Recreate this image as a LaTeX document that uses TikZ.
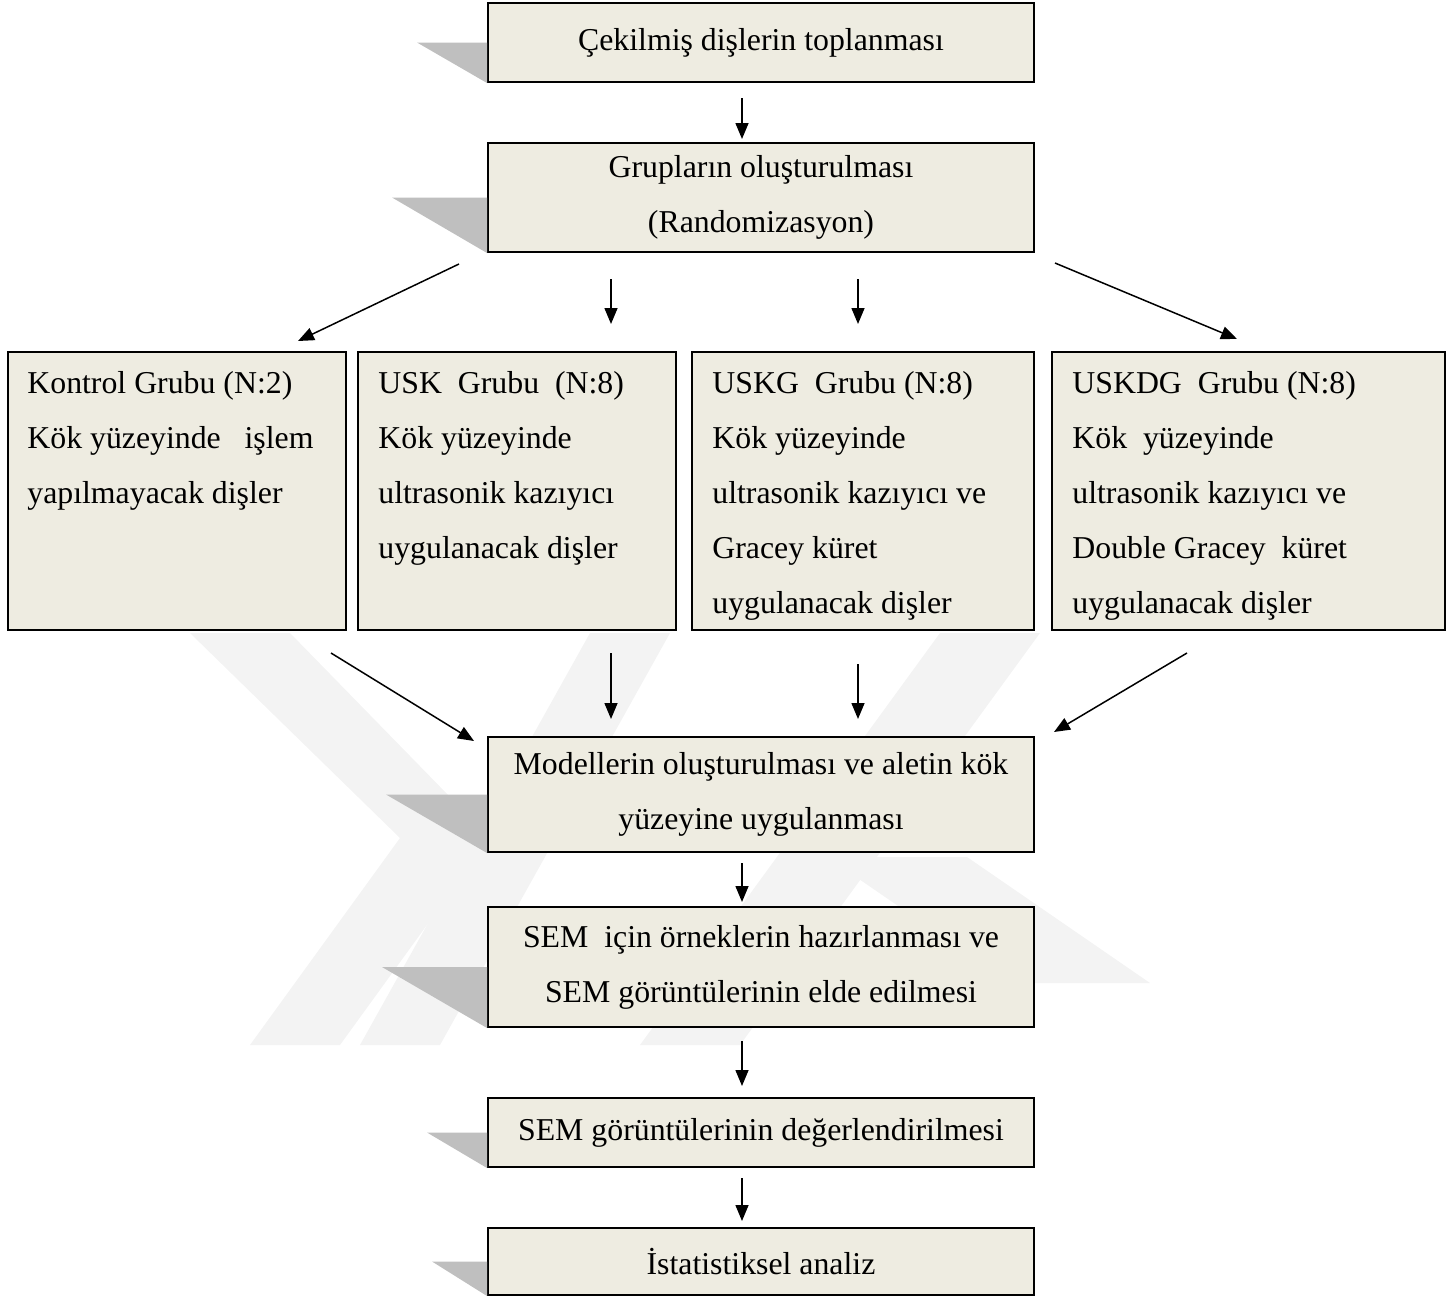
\documentclass[tikz,border=0pt]{standalone}
\usepackage{fontspec}
\setmainfont{Liberation Serif}
\usetikzlibrary{arrows.meta,calc}
\definecolor{boxfill}{HTML}{EEECE1}
\definecolor{shadowgray}{HTML}{BFBFBF}
\definecolor{wmgray}{HTML}{F3F3F3}
\begin{document}
\begin{tikzpicture}[x=0.5pt,y=-0.5pt,
  box/.style={draw=black, line width=1pt, fill=boxfill, inner sep=0pt,
    font=\fontsize{15.9}{27.5}\selectfont, align=center, minimum width=273pt},
  grp/.style={draw=black, line width=1pt, fill=boxfill, inner sep=0pt, minimum height=139pt},
  gtext/.style={anchor=north west, inner sep=0pt, align=left,
    font=\fontsize{15.9}{27.5}\selectfont},
  arr/.style={-{Triangle[length=8pt,width=6.5pt]}, line width=0.75pt},
  shadowfill/.style={fill=shadowgray, draw=none},
  wm/.style={fill=wmgray, draw=none}]
\useasboundingbox (0,0) rectangle (1453,1296);

% faint watermark
\fill[wm] (190,633) -- (290,633) -- (490,838) -- (340,1045) -- (250,1045) -- (400,838) -- cycle;
\fill[wm] (940,633) -- (1040,633) -- (740,1045) -- (640,1045) -- cycle;
\fill[wm] (590,633) -- (670,633) -- (440,1045) -- (360,1045) -- cycle;
\fill[wm] (827,857) -- (967,857) -- (1150,983) -- (1010,983) -- cycle;

% main column boxes
\node[box, minimum height=39.5pt] (b1) at (761,42.5) {Çekilmiş dişlerin toplanması};
\node[box, minimum height=54.5pt] (b2) at (761,197.5) {Grupların oluşturulması\\(Randomizasyon)};
\node[box, minimum height=57.5pt] (model) at (761,794.5) {Modellerin oluşturulması ve aletin kök\\yüzeyine uygulanması};
\node[box, minimum height=60pt] (sem) at (761,967) {SEM\ \ için örneklerin hazırlanması ve\\SEM görüntülerinin elde edilmesi};
\node[box, minimum height=34.5pt] (semd) at (761,1132.5) {SEM görüntülerinin değerlendirilmesi};
\node[box, minimum height=33.5pt] (ist) at (761,1261.5) {İstatistiksel analiz};

% shadows
\fill[shadowfill] ($(b1.west)+(-70,0)$) -- (b1.west) -- (b1.south west) -- cycle;
\fill[shadowfill] ($(b2.west)+(-95,0)$) -- (b2.west) -- (b2.south west) -- cycle;
\fill[shadowfill] ($(model.west)+(-101,0)$) -- (model.west) -- (model.south west) -- cycle;
\fill[shadowfill] ($(sem.west)+(-105,0)$) -- (sem.west) -- (sem.south west) -- cycle;
\fill[shadowfill] ($(semd.west)+(-60,0)$) -- (semd.west) -- (semd.south west) -- cycle;
\fill[shadowfill] ($(ist.west)+(-55,0)$) -- (ist.west) -- (ist.south west) -- cycle;

% group boxes
\node[grp, minimum width=169pt] (kon) at (177,491) {};
\node[grp, minimum width=159pt] (usk) at (517,491) {};
\node[grp, minimum width=171pt] (uskg) at (863,491) {};
\node[grp, minimum width=196.5pt] (uskdg) at (1248.5,491) {};

\node[gtext] (konT) at ($(kon.north west)+(20,20)$) {Kontrol Grubu (N:2)\\Kök yüzeyinde\ \ \ işlem\\yapılmayacak dişler};
\node[gtext] (uskT) at ($(usk.north west)+(21,20)$) {USK\ \ Grubu\ \ (N:8)\\Kök yüzeyinde\\ultrasonik kazıyıcı\\uygulanacak dişler};
\node[gtext] (uskgT) at ($(uskg.north west)+(21,20)$) {USKG\ \ Grubu (N:8)\\Kök yüzeyinde\\ultrasonik kazıyıcı ve\\Gracey küret\\uygulanacak dişler};
\node[gtext] (uskdgT) at ($(uskdg.north west)+(21,20)$) {USKDG\ \ Grubu (N:8)\\Kök\ \ yüzeyinde\\ultrasonik kazıyıcı ve\\Double Gracey\ \ küret\\uygulanacak dişler};

% arrows
\draw[arr] ($(b1.south west)+(255,15)$) -- ($(b2.north west)+(255,-3)$);
\draw[arr] ($(b2.south west)+(-28,11)$) -- ($(kon.north east)+(-49,-10)$);
\draw[arr] ($(b2.south west)+(124,26)$) -- ($(usk.north west)+(254,-27)$);
\draw[arr] ($(b2.south west)+(371,26)$) -- ($(uskg.north west)+(167,-27)$);
\draw[arr] ($(b2.south east)+(20,10)$) -- ($(uskdg.north west)+(186,-12)$);

\draw[arr] ($(kon.south east)+(-16,22)$) -- ($(model.north west)+(-13,5)$);
\draw[arr] ($(usk.south west)+(254,22)$) -- ($(model.north west)+(124,-17)$);
\draw[arr] ($(uskg.south west)+(167,33)$) -- ($(model.north west)+(371,-17)$);
\draw[arr] ($(uskdg.south west)+(136,22)$) -- ($(model.north east)+(19,-4)$);

\draw[arr] ($(model.south west)+(255,10)$) -- ($(sem.north west)+(255,-4)$);
\draw[arr] ($(sem.south west)+(255,13)$) -- ($(semd.north west)+(255,-11)$);
\draw[arr] ($(semd.south west)+(255,10)$) -- ($(ist.north west)+(255,-6)$);
\end{tikzpicture}
\end{document}
